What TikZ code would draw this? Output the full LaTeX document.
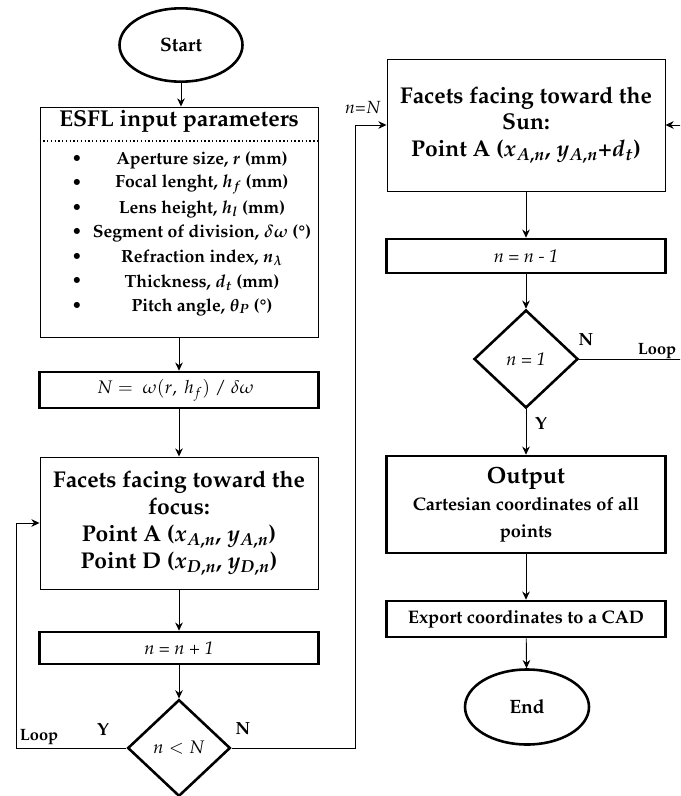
\documentclass[tikz,border=0pt]{standalone}
\usepackage[T1]{fontenc}
\usepackage{mathpazo}
\usetikzlibrary{shapes.geometric, arrows.meta}
\tikzstyle{term}=[ellipse, draw, line width=2.2pt, minimum width=3.69cm, minimum height=2.2cm, font=\fontsize{16.5}{19}\selectfont\bfseries]
\tikzstyle{block}=[rectangle, draw, line width=0.8pt, minimum width=8.34cm, align=center, font=\fontsize{19.5}{23}\selectfont\bfseries\boldmath]
\tikzstyle{bar}=[rectangle, draw, line width=2.2pt, minimum width=8.37cm, align=center, font=\fontsize{15.5}{18}\selectfont]
\tikzstyle{decision}=[diamond, draw, line width=2.2pt, minimum width=3.08cm, minimum height=2.9cm, inner sep=0pt, font=\fontsize{15.5}{18}\selectfont]
\tikzstyle{item}=[inner sep=0pt, font=\fontsize{15}{18}\selectfont\bfseries\boldmath]
\tikzstyle{tag}=[inner sep=1pt, font=\fontsize{15}{18}\selectfont\bfseries]
\tikzstyle{flow}=[line width=0.8pt, -{Stealth[length=7pt, width=6.5pt]}]

\begin{document}
\begin{tikzpicture}[x=0.03cm, y=-0.03cm]
    \clip (0,0) rectangle (680,796);
    % left column
    \node [term] (start) at (181,45) {Start};
    \node [block, minimum height=6.9cm] (esfl) at (179,222) {};
    \node [font=\fontsize{19.6}{22}\selectfont\bfseries] (title) at (179,121) {ESFL input parameters};
    \draw [dotted, line width=1.2pt] (esfl.west |- 0,141) -- (esfl.east |- 0,141);
    \foreach \txt [count=\i] in {{Aperture size, $r$ (mm)}, {Focal lenght, $h_f$ (mm)}, {Lens height, $h_l$ (mm)}, {Segment of division, $\delta\omega$ (\textdegree)}, {Refraction index, $n_\lambda$}, {Thickness, $d_t$ (mm)}, {Pitch angle, $\theta_P$ (\textdegree)}}
    {
        \node [item] (par\i) at (202,{135.5+24.5*\i}) {\txt};
        \node [item] (dot\i) at (77,{135.5+24.5*\i}) {\textbullet};
    }
    \node [bar, minimum height=1.08cm] (ratio) at (179,390) {$N =\ \omega(r,\ h_f)\ /\ \delta\omega$\hspace{6pt}};
    \node [block, minimum height=3.96cm] (focus) at (179,523) {Facets facing toward the\\ focus:\\ Point A ($x_{A,n}$, $y_{A,n}$)\\ Point D ($x_{D,n}$, $y_{D,n}$)};
    \node [bar, minimum height=0.96cm] (incr) at (179,648) {\itshape n = n + 1};
    \node [decision] (less) at (179,748) {$n < N$};
    % right column
    \node [block, minimum height=3.96cm] (sun) at (526,125) {Facets facing toward the\\ Sun:\\ Point A ($x_{A,n}$, $y_{A,n}$+$d_t$)};
    \node [bar, minimum height=1.02cm] (decr) at (526,256) {\itshape n = n - 1};
    \node [decision, minimum width=3.12cm, minimum height=2.94cm] (one) at (526,359) {\itshape n = 1};
    \node [bar, minimum height=2.91cm, font=\fontsize{15.5}{23}\selectfont\bfseries] (out) at (526,504.5) {{\fontsize{20}{22}\selectfont Output}\\ Cartesian coordinates of all\\ points};
    \node [bar, minimum height=1.08cm, font=\fontsize{15.5}{18}\selectfont\bfseries] (export) at (526,619) {Export coordinates to a CAD};
    \node [term, minimum width=3.72cm, minimum height=2.25cm] (end) at (527,707) {End};
    % connectors
    \coordinate (backL) at (16,523);
    \coordinate (backR) at (355,125);
    \coordinate (backE) at (684,125);
    \draw [flow] (start) -- (start |- esfl.north);
    \draw [flow] (esfl) -- (ratio);
    \draw [flow] (ratio) -- (focus);
    \draw [flow] (focus) -- (incr);
    \draw [flow] (incr) -- (less);
    \draw [flow] (less.west) -| (backL) -- (focus.west);
    \draw [flow] (less.east) -| (backR) -- (sun.west);
    \draw [flow] (sun) -- (decr);
    \draw [flow] (decr) -- (one);
    \draw [flow] (one.east) -| (backE) -- (sun.east);
    \draw [flow] (one) -- (out);
    \draw [flow] (out) -- (export);
    \draw [flow] (export) -- (end);
    % labels
    \node [tag, font=\fontsize{14}{16}\selectfont\bfseries] (loopL) at (39,737) {Loop};
    \node [tag] (yesL) at (103,729) {Y};
    \node [tag] (noL) at (243,729) {N};
    \node [font=\fontsize{15}{17}\selectfont] (hit) at (363,108) {$n$=$N$};
    \node [tag] (noR) at (586,340) {N};
    \node [tag, font=\fontsize{14}{16}\selectfont\bfseries] (loopR) at (657,351) {Loop};
    \node [tag] (yesR) at (541,423) {Y};
\end{tikzpicture}
\end{document}
